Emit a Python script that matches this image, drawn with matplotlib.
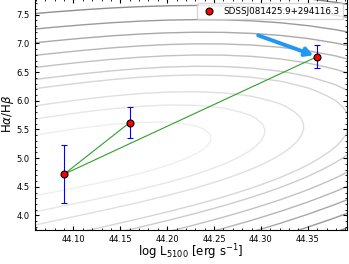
import matplotlib
matplotlib.use("Agg")
import matplotlib.pyplot as plt
from matplotlib.ticker import AutoMinorLocator
import numpy as np

# measured points (log L5100, Halpha/Hbeta)
log_l = [44.09, 44.16, 44.36]
balmer = [4.72, 5.62, 6.77]
balmer_err = [0.51, 0.27, 0.20]
obj_name = "SDSSJ081425.9+294116.3"

# order in which the green segments connect the epochs
path_idx = [1, 0, 2]

# blue arrow start -> ends on the last epoch
arrow_start = (44.297, 7.14)

# background model contours: half-widths at the left edge (contour levels)
levels = [0.53, 0.81, 1.04, 1.34, 1.50, 1.71, 1.92, 2.14, 2.38, 2.65, 2.90, 3.15]


def model_surface(lx, hr):
    # shape parameters for the background grid
    u = (lx - 44.0585) / 0.3335
    yc = 4.87 + 1.0 * u - 0.25 * u ** 2
    s = 1.0 - 0.2 * u
    g = 1.75 * np.clip(u, 0, None) ** 3.23
    return np.sqrt(((hr - yc) / s) ** 2 + g)


gx = np.arange(43.99, 44.46, 0.03)
gy = np.arange(3.4, 8.2, 0.1)
GX, GY = np.meshgrid(gx, gy)
Z = model_surface(GX, GY)

fig = plt.figure(figsize=(3.49, 2.64), dpi=100)
ax = fig.add_axes([0.099, 0.13, 0.896, 0.874])

cols = plt.cm.Greys(np.linspace(0.13, 0.62, len(levels)))
ax.contour(GX, GY, Z, levels=levels, colors=cols, linewidths=1.0, zorder=1)

px = [log_l[i] for i in path_idx]
py = [balmer[i] for i in path_idx]
ax.plot(px, py, color="tab:green", lw=0.8, zorder=2)

ax.errorbar(log_l, balmer, yerr=balmer_err, fmt="none", ecolor="blue",
            elinewidth=0.8, capsize=2, capthick=0.8, zorder=3)
ax.plot(log_l, balmer, "o", ms=5, mfc="red", mec="black", mew=0.8,
        label=obj_name, zorder=4)

ax.annotate("", xy=(log_l[2], balmer[2]), xytext=arrow_start,
            arrowprops=dict(arrowstyle="-|>,head_length=0.45,head_width=0.25",
                            color="#2196f3", lw=2.8, shrinkA=0, shrinkB=3),
            zorder=3)

ax.set_xlim(44.0585, 44.392)
ax.set_ylim(3.752, 7.775)
ax.set_xticks([44.10, 44.15, 44.20, 44.25, 44.30, 44.35])
ax.set_yticks([4.0, 4.5, 5.0, 5.5, 6.0, 6.5, 7.0, 7.5])
ax.xaxis.set_minor_locator(AutoMinorLocator(5))
ax.yaxis.set_minor_locator(AutoMinorLocator(5))
ax.tick_params(which="both", direction="in", top=True, right=True, labelsize=6)
ax.tick_params(which="major", length=3)
ax.tick_params(which="minor", length=1.5)

ax.set_xlabel(r"log L$_{5100}$ [erg s$^{-1}$]", fontsize=8.5, va="center")
ax.set_ylabel(r"H$\alpha$/H$\beta$", fontsize=8.5, va="center")
ax.xaxis.set_label_coords(0.5, -0.097)
ax.yaxis.set_label_coords(-0.086, 0.5)

ax.legend(loc="upper right", fontsize=6.3, handletextpad=0.6, borderpad=0.4,
          borderaxespad=0.5)

fig.savefig("out.png", dpi=100)
